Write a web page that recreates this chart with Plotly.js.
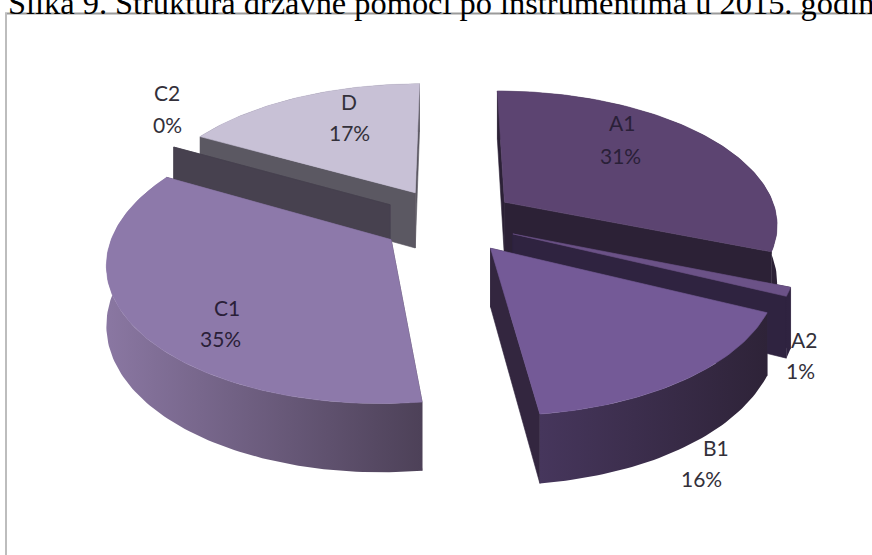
<!DOCTYPE html>
<html>
<head>
<meta charset="utf-8">
<script src="https://cdn.plot.ly/plotly-3.0.1.min.js"></script>
<style>html,body{margin:0;padding:0;background:#fff;overflow:hidden}#chart{width:872px;height:555px}</style>
</head>
<body>
<div id="chart"></div>
<script>
// Data
const categories = ['A1', 'A2', 'B1', 'C1', 'C2', 'D'];
const shares = [31, 1, 16, 35, 0, 17];
const chartTitle = 'Slika 9. Struktura državne pomoći po instrumentima u 2015. godini';

// Styles per slice
const topColors = ['#5c4471', '#6b5287', '#745a97', '#8d79aa', '#47414f', '#c8c1d6'];
const edgeColors = ['#2c2136', '#2f2340', '#33263f', '#4e4259', '#47414f', '#5b5862'];
const arcGradients = [
  ['#2c2136', '#2c2136'], ['#2f2340', '#2f2340'], ['#46365c', '#2e2338'],
  ['#8a77a2', '#4d4158'], ['#47414f', '#47414f'], ['#5b5862', '#5b5862']
];
// Label line positions on the sheet
const labelAnchors = [[622, 122, 620, 155], [804, 339, 800, 370], [716, 447, 701, 478],
                      [227, 307, 220, 338], [167, 92, 167, 124], [349, 101, 349, 132]];

// Projection of the tilted, exploded pie
const view = {cx: 449, cy: 220.5, sx: 274, sy: 133, persp: 0.15, pull: 0.25, depth: 57};
function project(u, v, z) {
  const s = 1 / (1 + view.persp * v);
  return [view.cx + view.sx * u * s, view.cy - view.sy * v * s + view.depth * z * s];
}

const total = shares.reduce((a, b) => a + b, 0);
const polys = [];
let acc = 0;
categories.forEach((name, i) => {
  const a0 = acc / total * 2 * Math.PI;
  acc += shares[i];
  const a1 = acc / total * 2 * Math.PI;
  const mid = (a0 + a1) / 2;
  polys.push({i, name, a0, a1, ou: view.pull * Math.sin(mid), ov: view.pull * Math.cos(mid)});
});

function arcPoints(p) {
  const steps = Math.max(1, Math.ceil((p.a1 - p.a0) / 0.02));
  const out = [];
  for (let k = 0; k <= steps; k++) {
    const a = p.a0 + (p.a1 - p.a0) * k / steps;
    out.push([p.ou + Math.sin(a), p.ov + Math.cos(a)]);
  }
  return out;
}
function polygon(pts, color, name, gradient) {
  const xs = pts.map(q => q[0]), ys = pts.map(q => q[1]);
  xs.push(xs[0]); ys.push(ys[0]);
  const t = {type: 'scatter', mode: 'lines', x: xs, y: ys, name, fill: 'toself', fillcolor: color,
    line: {color: gradient ? gradient[1] : color, width: 0.6}, hoverinfo: 'skip'};
  if (gradient) {
    t.fillgradient = {type: 'horizontal', colorscale: [[0, gradient[0]], [1, gradient[1]]]};
    t.line = {width: 0};
  }
  return t;
}

const traces = [];
const paintOrder = [5, 4, 0, 1, 3, 2];
paintOrder.forEach(idx => {
  const p = polys[idx];
  const arc = arcPoints(p);
  const first = arc[0], last = arc[arc.length - 1];
  const apex = [p.ou, p.ov];
  const wall = (a, b) => [project(a[0], a[1], 0), project(b[0], b[1], 0), project(b[0], b[1], 1), project(a[0], a[1], 1)];
  traces.push(polygon(wall(apex, first), edgeColors[idx], p.name + ' edge'));
  traces.push(polygon(wall(apex, last), edgeColors[idx], p.name + ' edge'));
  const band = arc.map(q => project(q[0], q[1], 0)).concat(arc.slice().reverse().map(q => project(q[0], q[1], 1)));
  traces.push(polygon(band, edgeColors[idx], p.name + ' side', arcGradients[idx]));
  if (shares[idx] > 0) {
    const top = [project(apex[0], apex[1], 0)].concat(arc.map(q => project(q[0], q[1], 0)));
    traces.push(polygon(top, topColors[idx], p.name));
  }
});

const annotations = [];
categories.forEach((name, i) => {
  const a = labelAnchors[i];
  const base = {xref: 'x', yref: 'y', showarrow: false, xanchor: 'center', yanchor: 'middle',
    font: {family: 'Lato, sans-serif', size: 21, color: i === 0 || i === 3 ? '#2a2038' : '#33303a'}};
  annotations.push(Object.assign({}, base, {x: a[0], y: a[1], text: name}));
  annotations.push(Object.assign({}, base, {x: a[2], y: a[3], text: shares[i] + '%'}));
});

const layout = {
  width: 872, height: 555, showlegend: false,
  margin: {l: 0, r: 0, t: 0, b: 0},
  paper_bgcolor: '#fff', plot_bgcolor: '#fff',
  xaxis: {range: [0, 872], visible: false, fixedrange: true},
  yaxis: {range: [555, 0], visible: false, fixedrange: true},
  title: {text: chartTitle, x: 8 / 872, xanchor: 'left', xref: 'paper', y: 1 - 14 / 555, yref: 'paper', yanchor: 'bottom',
          font: {family: '"Liberation Serif", serif', size: 32.4, color: '#000'}},
  shapes: [
    {type: 'line', xref: 'x', yref: 'y', x0: 5, x1: 872, y0: 13.5, y1: 13.5, line: {color: '#9a9a9a', width: 2}},
    {type: 'line', xref: 'x', yref: 'y', x0: 6, x1: 6, y0: 13, y1: 555, line: {color: '#bdbdbd', width: 2}}
  ],
  annotations
};
Plotly.newPlot('chart', traces, layout, {displayModeBar: false, staticPlot: true});
</script>
</body>
</html>
